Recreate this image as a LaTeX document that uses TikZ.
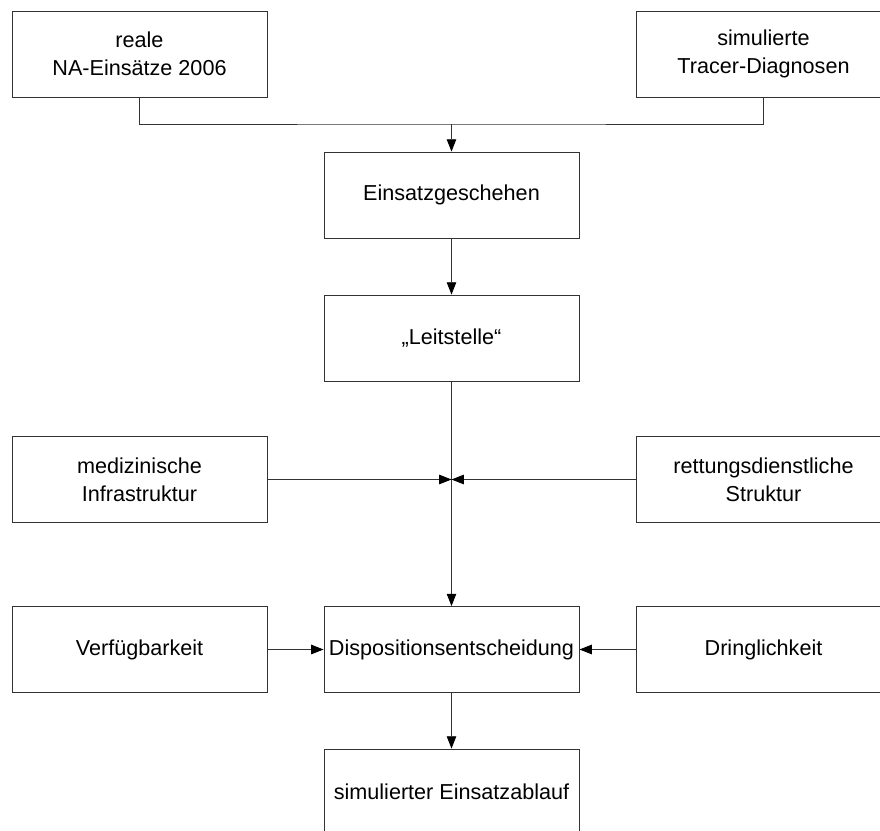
\documentclass[tikz,border=0pt]{standalone}
\usepackage{fontspec}
\setmainfont{Liberation Sans}
\usetikzlibrary{arrows.meta}
\definecolor{edge}{HTML}{333333}
\tikzset{
  box/.style={draw=edge, line width=0.5pt, align=center, minimum width=5.1cm, minimum height=1.72cm, inner sep=1mm, font=\fontsize{12.3}{16}\selectfont},
  line/.style={draw=edge, line width=0.5pt},
  arrow/.style={line, -{Triangle[length=7pt,width=5.4pt,color=black]}}
}

\begin{document}
\begin{tikzpicture}[x=0.02cm, y=-0.02cm]
  \useasboundingbox (0,0) rectangle (880,831);
  \clip (0,0) rectangle (880,831);
  \node[box] (real) at (139.5,54) {reale\\NA-Einsätze 2006};
  \node[box] (tracer) at (763.5,54) {simulierte\\Tracer-Diagnosen};
  \node[box] (einsatz) at (451.5,195) {Einsatzgeschehen};
  \node[box] (leit) at (451.5,338) {„Leitstelle“};
  \node[box] (med) at (139.5,479.5) {medizinische\\Infrastruktur};
  \node[box] (rett) at (763.5,479.5) {rettungsdienstliche\\Struktur};
  \node[box] (verf) at (139.5,649.5) {Verfügbarkeit};
  \node[box] (dispo) at (451.5,649.5) {Dispositionsentscheidung};
  \node[box] (dring) at (763.5,649.5) {Dringlichkeit};
  \node[box] (ablauf) at (451.5,792) {simulierter Einsatzablauf};
  \coordinate (join) at (451.5,124);
  \coordinate (mid) at (451.5,479.5);
  \draw[line] (real.south) |- (join) -| (tracer.south);
  \draw[arrow] (join) -- (einsatz);
  \draw[arrow] (einsatz) -- (leit);
  \draw[arrow] (leit) -- (dispo);
  \draw[arrow] (med) -- (mid);
  \draw[arrow] (rett) -- (mid);
  \draw[arrow] (verf) -- (dispo);
  \draw[arrow] (dring) -- (dispo);
  \draw[arrow] (dispo) -- (ablauf);
\end{tikzpicture}
\end{document}
